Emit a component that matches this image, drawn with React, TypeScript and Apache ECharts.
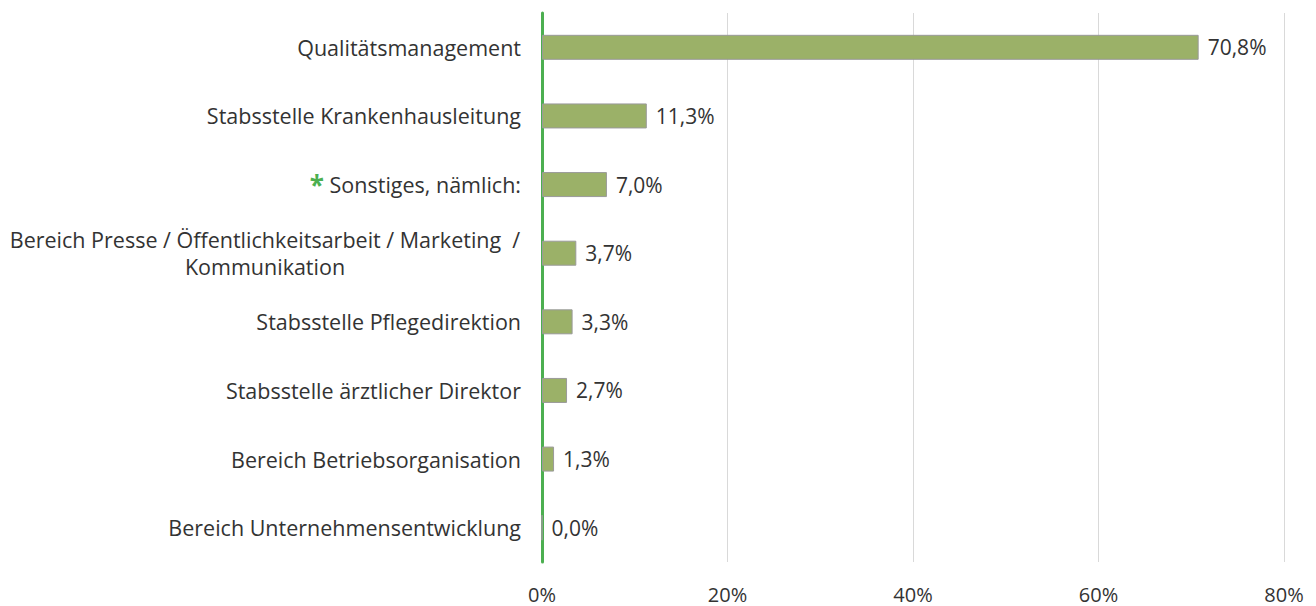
import React, { useEffect, useRef } from "react";
import * as echarts from "echarts";

const categories = [
  "Qualitätsmanagement",
  "Stabsstelle Krankenhausleitung",
  "Sonstiges, nämlich:",
  "Bereich Presse / Öffentlichkeitsarbeit / Marketing  /\nKommunikation",
  "Stabsstelle Pflegedirektion",
  "Stabsstelle ärztlicher Direktor",
  "Bereich Betriebsorganisation",
  "Bereich Unternehmensentwicklung",
];
const values = [70.8, 11.3, 7.0, 3.7, 3.3, 2.7, 1.3, 0.0];
const xTicks = [0, 20, 40, 60, 80];

const FONT = "Open Sans";
const FS = 21.5;

export default function App() {
  const ref = useRef<HTMLDivElement>(null);
  useEffect(() => {
    document.body.style.margin = "0";
    if (!ref.current) return;
    const chart = echarts.init(ref.current, undefined, { renderer: "svg" });
    chart.setOption({
      animation: false,
      grid: { left: 542, right: 32, top: 13, bottom: 44, containLabel: false },
      xAxis: {
        type: "value",
        min: xTicks[0],
        max: xTicks[xTicks.length - 1],
        interval: 20,
        axisLine: { show: false },
        axisTick: { show: false },
        splitLine: { show: true, lineStyle: { color: "#d9d9d9", width: 1 } },
        axisLabel: {
          formatter: (v: number) => `${v}%`,
          color: "#333",
          fontSize: 20,
          fontFamily: FONT,
          margin: 22,
        },
      },
      yAxis: {
        type: "category",
        data: categories,
        inverse: true,
        axisLine: { show: true, lineStyle: { color: "#4caf50", width: 3 } },
        axisTick: { show: false },
        splitLine: { show: false },
        axisLabel: {
          color: "#333",
          fontSize: FS,
          fontFamily: FONT,
          margin: 21,
          lineHeight: 27,
          formatter: (v: string) => {
            if (v.startsWith("Sonstiges")) return `{star|*} ${v}`;
            if (v.includes("\n")) return v.split("\n").map((l) => `{c|${l}}`).join("\n");
            return v;
          },
          rich: {
            star: { color: "#4caf50", fontSize: 26, fontWeight: "bold", fontFamily: FONT, verticalAlign: "middle" },
            c: { width: 512, align: "center", fontSize: FS, fontFamily: FONT, color: "#333", lineHeight: 27 },
          },
        },
      },
      series: [
        {
          type: "bar",
          data: values,
          barWidth: 25,
          itemStyle: { color: "#9bb168", borderColor: "#9a9a9a", borderWidth: 1 },
          label: {
            show: true,
            position: "right",
            distance: 9,
            color: "#333",
            fontSize: 21,
            fontFamily: FONT,
            formatter: (p: any) => `${p.value.toFixed(1).replace(".", ",")}%`,
          },
        },
      ],
    });
    return () => chart.dispose();
  }, []);
  return <div ref={ref} style={{ width: 1316, height: 606 }} />;
}
